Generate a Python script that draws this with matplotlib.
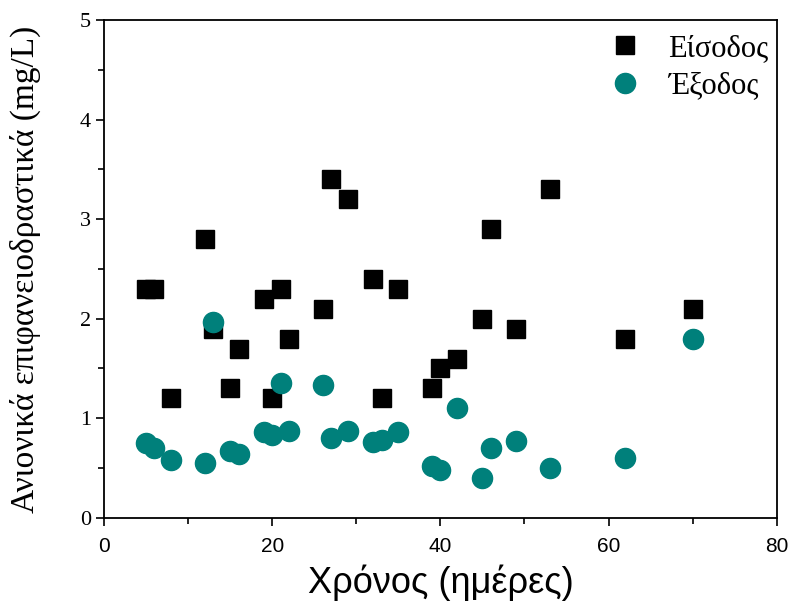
import matplotlib.pyplot as plt
from matplotlib.ticker import MultipleLocator
import numpy as np

# sampling days
days = [5, 6, 8, 12, 13, 15, 16, 19, 20, 21, 22, 26, 27, 29, 32, 33, 35,
        39, 40, 42, 45, 46, 49, 53, 62, 70]
# anionic surfactants, mg/L
eisodos = [2.3, 2.3, 1.2, 2.8, 1.9, 1.3, 1.7, 2.2, 1.2, 2.3, 1.8, 2.1, 3.4,
           3.2, 2.4, 1.2, 2.3, 1.3, 1.5, 1.6, 2.0, 2.9, 1.9, 3.3, 1.8, 2.1]
exodos = [0.75, 0.70, 0.58, 0.55, 1.97, 0.67, 0.64, 0.86, 0.83, 1.35, 0.87,
          1.33, 0.80, 0.87, 0.76, 0.78, 0.86, 0.52, 0.48, 1.10, 0.40, 0.70,
          0.77, 0.50, 0.60, 1.80]

serif = ['Liberation Serif', 'DejaVu Serif']
narrow = ['Liberation Sans Narrow', 'Liberation Sans', 'DejaVu Sans']

fig = plt.figure(figsize=(7.91, 6.15), dpi=100)
ax = fig.add_axes([0.1315, 0.158, 0.8505, 0.8095])

ax.plot(days, eisodos, 's', color='black', markersize=13, label='Είσοδος')
ax.plot(days, exodos, 'o', color='#00807b', markersize=14.5, label='Έξοδος')

ax.set_xlim(0, 80)
ax.set_ylim(0, 5)
ax.xaxis.set_major_locator(MultipleLocator(20))
ax.xaxis.set_minor_locator(MultipleLocator(10))
ax.yaxis.set_major_locator(MultipleLocator(1))
ax.yaxis.set_minor_locator(MultipleLocator(0.5))
ax.tick_params(which='major', direction='out', length=6, width=1.2)
ax.tick_params(which='minor', direction='out', length=4, width=1.2)
ax.tick_params(axis='x', pad=8)
for s in ax.spines.values():
    s.set_linewidth(1.3)

for lab in ax.get_xticklabels():
    lab.set_family(narrow)
    lab.set_fontsize(15)
for lab in ax.get_yticklabels():
    lab.set_family(serif)
    lab.set_fontsize(16)

ax.set_xlabel('Χρόνος (ημέρες)', family=narrow, fontsize=26, labelpad=6)
ax.set_ylabel('Ανιονικά επιφανειοδραστικά (mg/L)', family=serif,
              fontsize=24, labelpad=28)

ax.legend(loc='upper right', bbox_to_anchor=(1.008, 1.0), frameon=False,
          prop={'family': serif, 'size': 22}, handletextpad=0.9,
          borderaxespad=0.05, labelspacing=0.28, handlelength=1.0)

plt.savefig('out.png', dpi=100)
